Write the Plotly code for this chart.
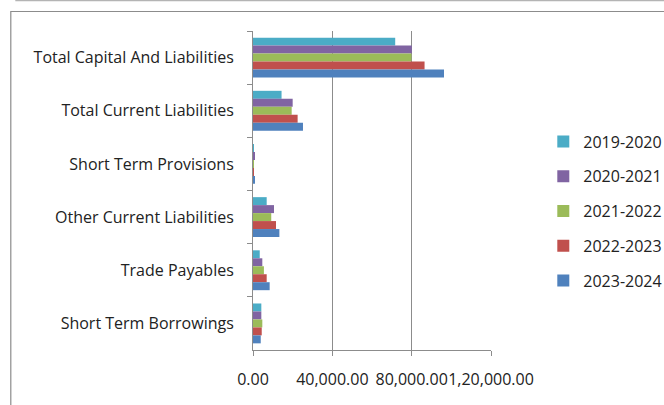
import plotly.graph_objects as go

categories = ["Total Capital And Liabilities", "Total Current Liabilities",
              "Short Term Provisions", "Other Current Liabilities",
              "Trade Payables", "Short Term Borrowings"]
series_names = ["2019-2020", "2020-2021", "2021-2022", "2022-2023", "2023-2024"]
v2019_2020 = [71700, 14400, 500, 6900, 3400, 4200]
v2020_2021 = [80100, 20000, 600, 10600, 4700, 4200]
v2021_2022 = [79900, 19500, 400, 9200, 5500, 4700]
v2022_2023 = [86500, 22500, 500, 11600, 6900, 4400]
v2023_2024 = [96300, 25200, 600, 13300, 8400, 3900]
tick_vals = [0, 40000, 80000, 120000]
tick_text = ["0.00", "40,000.00", "80,000.00", "1,20,000.00"]

colors = ["#4BACC6", "#8064A2", "#9BBB59", "#C0504D", "#4F81BD"]
all_values = [v2019_2020, v2020_2021, v2021_2022, v2022_2023, v2023_2024]

W, H = 664, 405
L, R, T, B = 252.7, 490.7, 31, 350

fig = go.Figure()
for name, vals, col in zip(series_names, all_values, colors):
    fig.add_trace(go.Bar(
        y=categories, x=vals, name=name, orientation="h",
        marker=dict(color=col, line=dict(width=0)),
        legendgroup=name, hoverinfo="skip",
    ))

def px_x(p):
    return (p - L) / (R - L)

def px_y(p):
    return (B - p) / (B - T)

font = "Open Sans"
fig.update_layout(
    width=W, height=H,
    margin=dict(l=L, r=W - R, t=T, b=H - B, pad=0, autoexpand=False),
    paper_bgcolor="white", plot_bgcolor="white",
    barmode="group", bargap=0.25, bargroupgap=0,
    font=dict(family=font, size=16, color="#222222"),
    showlegend=True,
    legend=dict(
        x=px_x(543), xanchor="left", y=px_y(211), yanchor="middle",
        font=dict(family=font, size=16, color="#222222"),
        tracegroupgap=11, itemwidth=30, bgcolor="rgba(0,0,0,0)",
    ),
    xaxis=dict(
        range=[0, 120000], tickvals=tick_vals, ticktext=tick_text,
        tickangle=0, automargin=False,
        showgrid=True, gridcolor="#8c8c8c", gridwidth=1,
        showline=True, linecolor="#8c8c8c", linewidth=1,
        ticks="outside", ticklen=5, tickcolor="#8c8c8c",
        zeroline=False, ticklabelstandoff=10,
        tickfont=dict(family=font, size=16, color="#222222"),
        fixedrange=True,
    ),
    yaxis=dict(
        autorange="reversed", type="category", automargin=False,
        showgrid=False, showline=True, linecolor="#8c8c8c", linewidth=1,
        ticks="outside", ticklen=5, tickcolor="#8c8c8c", tickson="boundaries",
        ticklabelstandoff=15,
        tickfont=dict(family=font, size=16, color="#222222"),
        fixedrange=True,
    ),
    shapes=[
        dict(type="line", xref="paper", yref="paper",
             x0=px_x(15), x1=px_x(664), y0=px_y(0.5), y1=px_y(0.5),
             line=dict(color="#b4b4b4", width=1.5)),
        dict(type="rect", xref="paper", yref="paper",
             x0=px_x(10.5), x1=px_x(680), y0=px_y(11.5), y1=px_y(420),
             line=dict(color="#8c8c8c", width=1.2), fillcolor="rgba(0,0,0,0)"),
    ],
)

fig.write_html("out.html", config={"displayModeBar": False},
               post_script="document.body.style.margin='0';")
